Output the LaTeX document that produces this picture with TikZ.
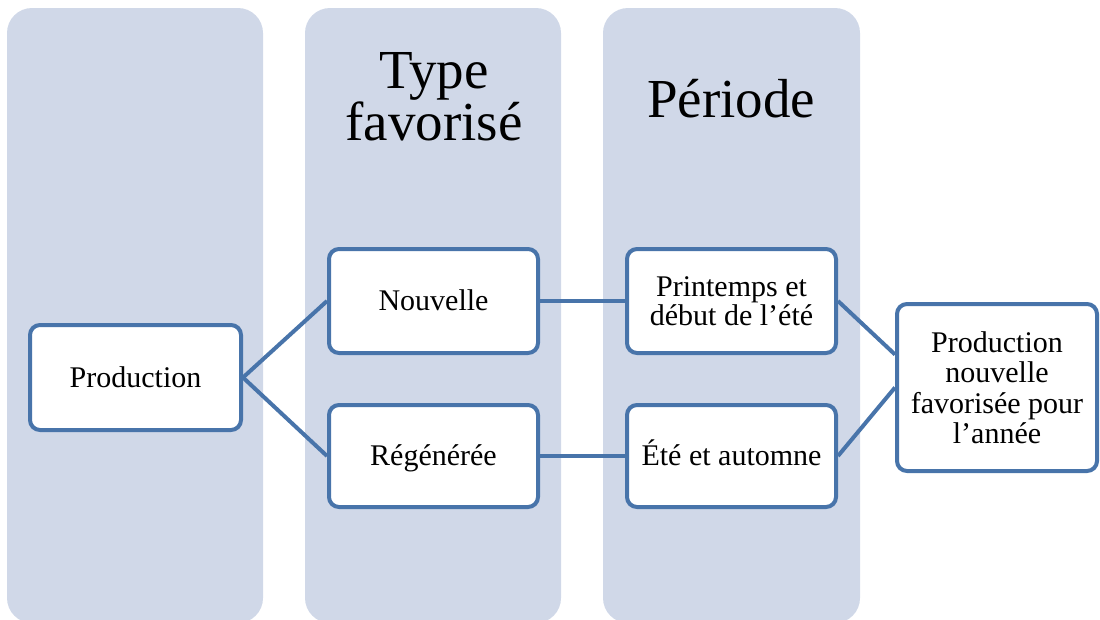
\documentclass[tikz,border=0pt]{standalone}
\usepackage{fontspec}
\setmainfont{Liberation Serif}
\definecolor{lane}{RGB}{208,216,232}
\definecolor{edgeblue}{RGB}{72,116,170}
\begin{document}
\begin{tikzpicture}[x=1pt,y=-1pt,
  lanebg/.style={fill=lane,rounded corners=25pt},
  header/.style={font=\fontsize{55}{52}\selectfont,align=center,inner sep=0pt,anchor=base},
  box/.style={draw=edgeblue,line width=4pt,fill=white,rounded corners=10pt,
              align=center,inner sep=0pt,font=\fontsize{30}{30}\selectfont},
  oneline/.style={text height=22pt,text depth=3pt},
  link/.style={draw=edgeblue,line width=4pt}]
  \useasboundingbox (0,0) rectangle (1100,619);
  \clip (0,0) rectangle (1100,619);

  % background lanes
  \fill[lanebg] (7,8) rectangle (263,623);
  \fill[lanebg] (305,8) rectangle (561,623);
  \fill[lanebg] (603,8) rectangle (860,623);

  % lane headings
  \node[header] (htype) at (434,140) {Type\\favorisé};
  \node[header] (hper) at (731,117) {Période};

  % boxes
  \node[box,oneline,minimum width=211pt,minimum height=105pt] (prod) at (135.5,377.5) {Production};
  \node[box,oneline,minimum width=209pt,minimum height=104pt] (nouv) at (433.5,301) {Nouvelle};
  \node[box,oneline,minimum width=209pt,minimum height=102pt] (regen) at (433.5,456) {Régénérée};
  \node[box,font=\fontsize{30}{29}\selectfont,minimum width=209pt,minimum height=104pt] (print) at (731.5,301) {Printemps et\\début de l’été};
  \node[box,oneline,minimum width=209pt,minimum height=102pt] (ete) at (731.5,456) {Été et automne};
  \node[box,font=\fontsize{30}{30.5}\selectfont,minimum width=200pt,minimum height=167pt] (final) at (997,387.5)
    {Production\\nouvelle\\favorisée pour\\l’année};

  % connectors
  \coordinate (finup) at ([yshift=33pt]final.west);
  \draw[link] (prod.east) -- (nouv.west);
  \draw[link] (prod.east) -- (regen.west);
  \draw[link] (nouv.east) -- (print.west);
  \draw[link] (regen.east) -- (ete.west);
  \draw[link] (print.east) -- (finup);
  \draw[link] (ete.east) -- (final.west);
\end{tikzpicture}
\end{document}
